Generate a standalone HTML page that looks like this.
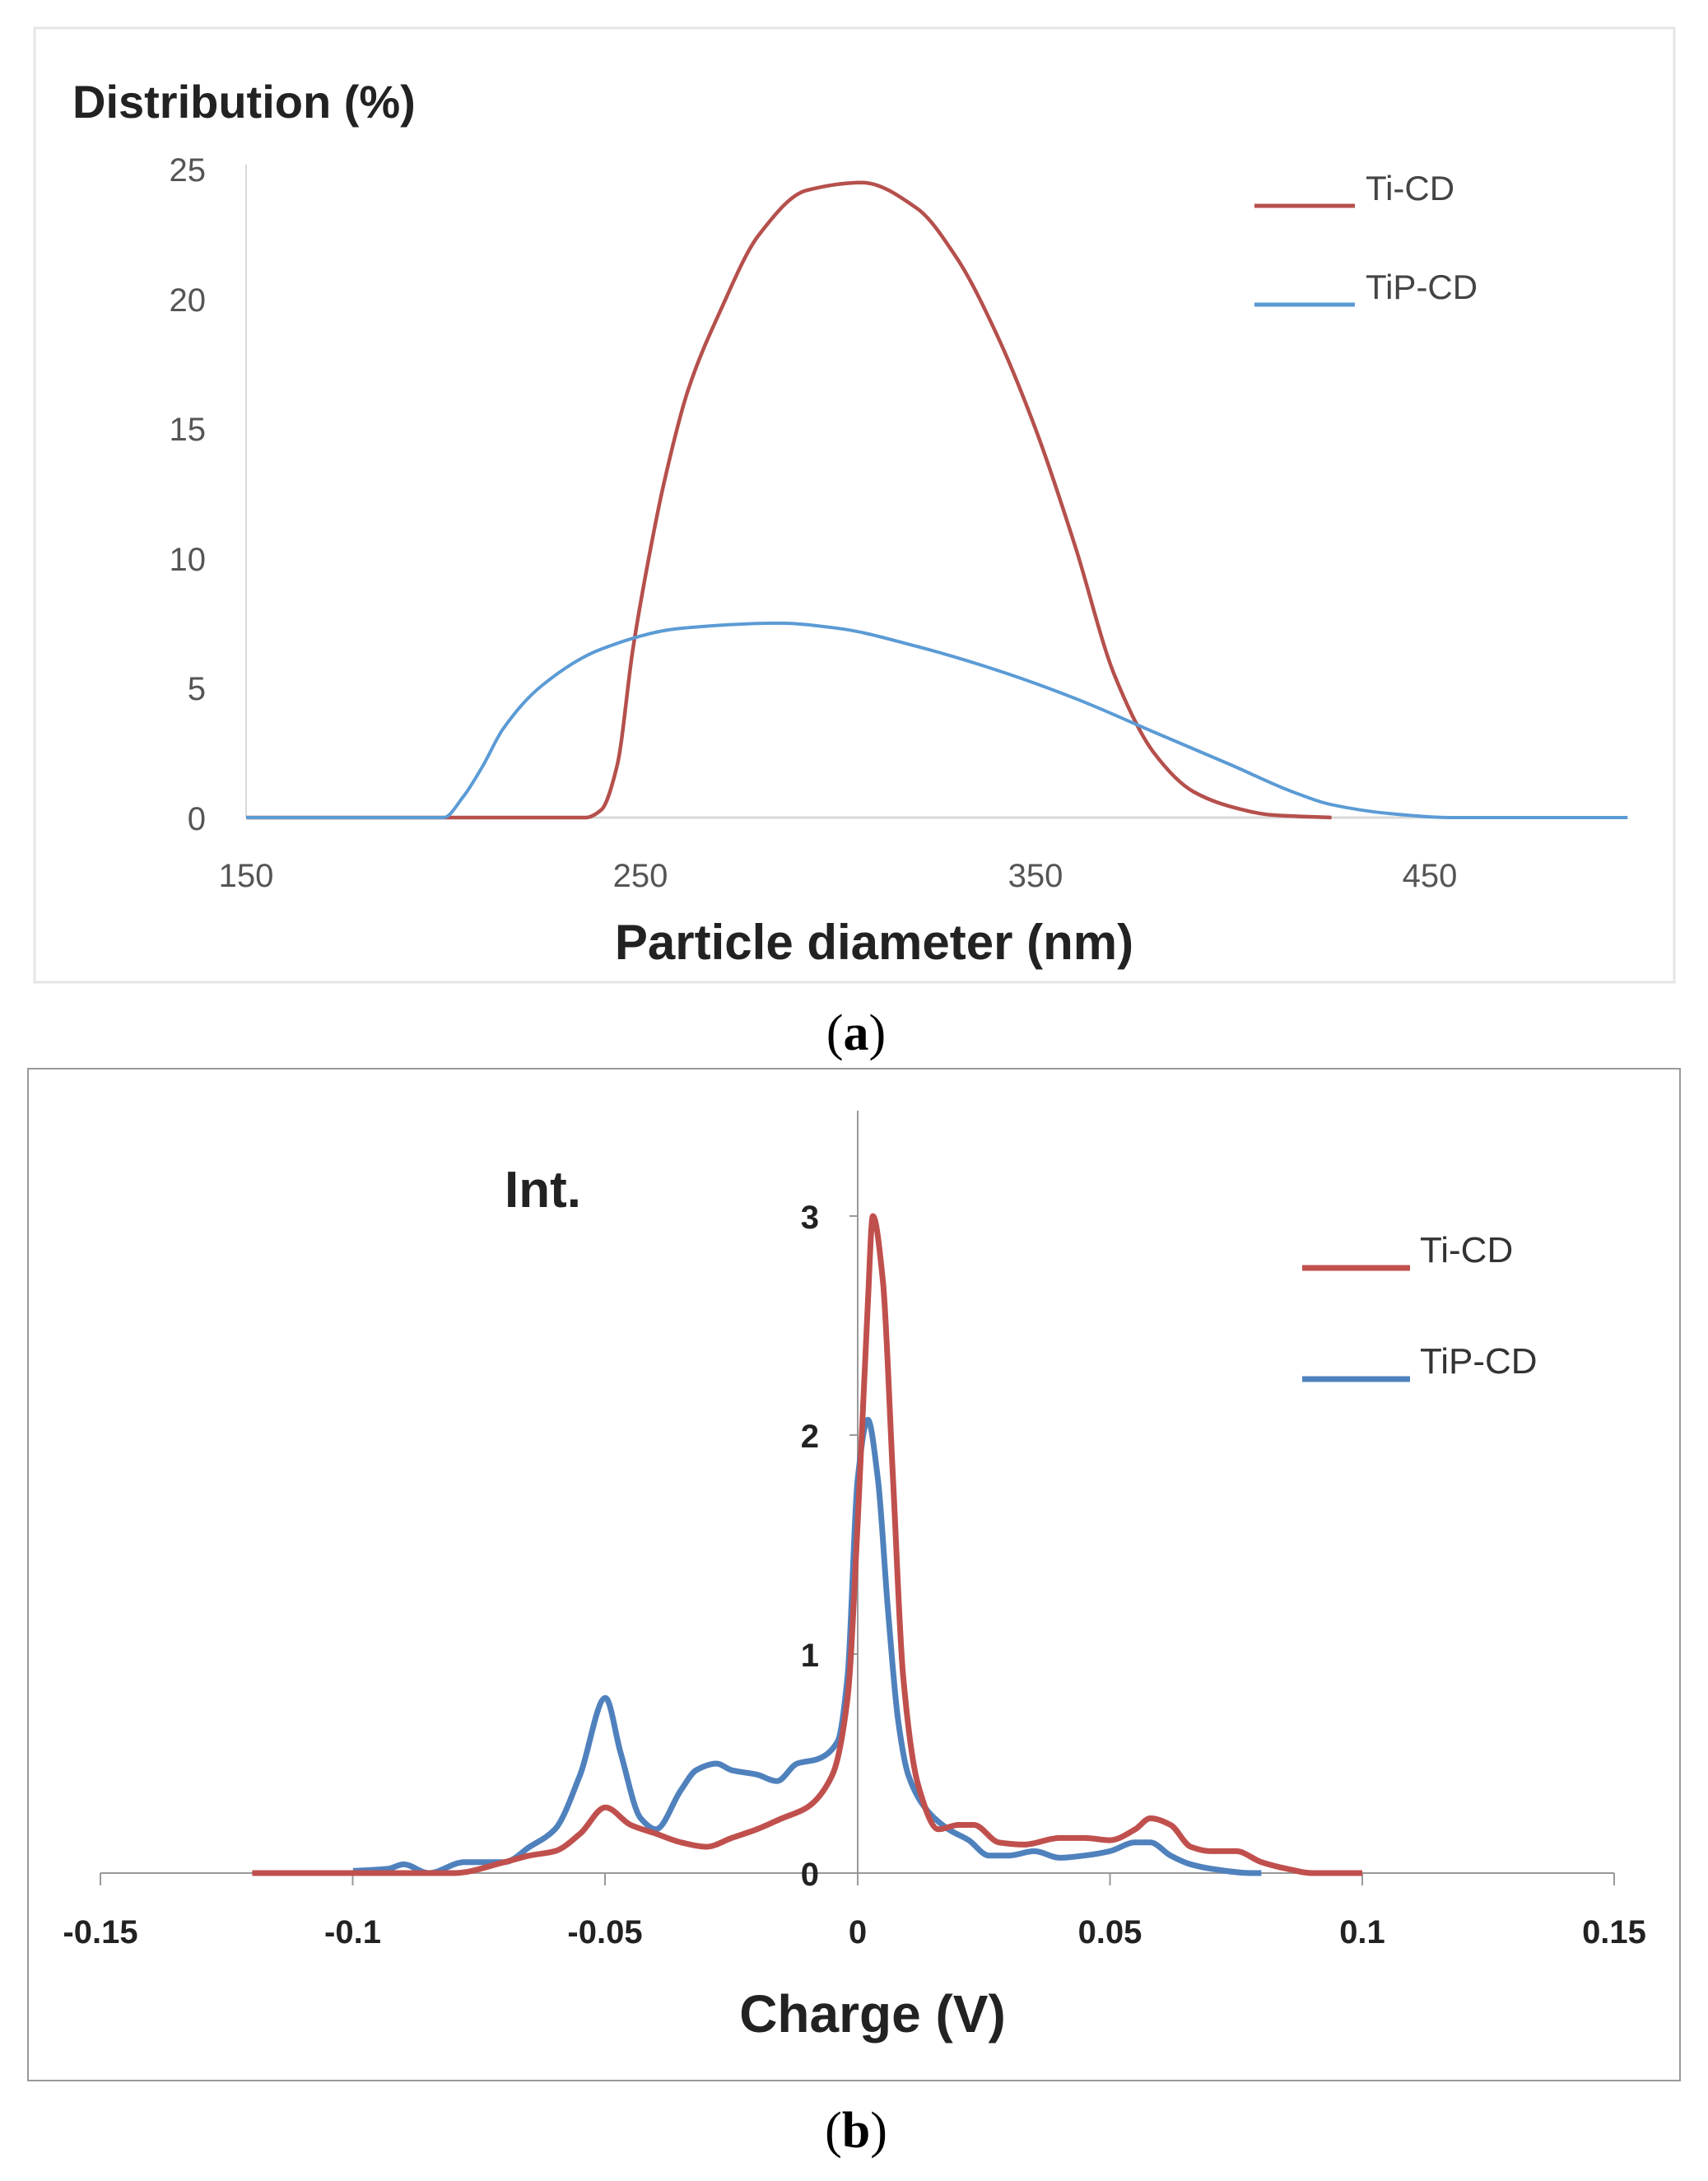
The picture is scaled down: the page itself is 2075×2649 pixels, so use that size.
<!DOCTYPE html>
<html><head><meta charset="utf-8"><style>
html,body{margin:0;padding:0;background:#fff;}
svg{display:block;}
</style></head><body>
<svg id="s" width="2075" height="2649" viewBox="0 0 2075 2649" xmlns="http://www.w3.org/2000/svg" font-family="Liberation Sans, sans-serif">
<rect x="0" y="0" width="2075" height="2649" fill="#fff"/>
<!-- Panel a -->
<rect x="42" y="34" width="1992" height="1159" fill="#fff" stroke="#e6e6e6" stroke-width="3"/>
<line x1="299" y1="200" x2="299" y2="993" stroke="#d9d9d9" stroke-width="2"/>
<line x1="299" y1="993" x2="1975" y2="993" stroke="#d9d9d9" stroke-width="3"/>
<text x="88" y="143" font-size="56" font-weight="bold" fill="#222">Distribution (%)</text>
<g font-size="40" fill="#555" text-anchor="end">
<text x="250" y="220">25</text><text x="250" y="378">20</text><text x="250" y="535">15</text>
<text x="250" y="693">10</text><text x="250" y="850">5</text><text x="250" y="1008">0</text>
</g>
<g font-size="40" fill="#555" text-anchor="middle">
<text x="299" y="1077">150</text><text x="778" y="1077">250</text><text x="1258" y="1077">350</text><text x="1737" y="1077">450</text>
</g>
<text x="1062" y="1165" font-size="60" font-weight="bold" fill="#222" text-anchor="middle">Particle diameter (nm)</text>
<path id="ra" fill="none" stroke="#b5504c" stroke-width="4.5"/>
<path id="ba" fill="none" stroke="#5b9bd5" stroke-width="4"/>
<line x1="1524" y1="250" x2="1646" y2="250" stroke="#b5504c" stroke-width="5"/>
<line x1="1524" y1="370" x2="1646" y2="370" stroke="#5b9bd5" stroke-width="5"/>
<text x="1659" y="243" font-size="42" fill="#444">Ti-CD</text>
<text x="1659" y="363" font-size="42" fill="#444">TiP-CD</text>
<text x="1040" y="1275" font-size="62" font-family="Liberation Serif, serif" text-anchor="middle" fill="#000">(<tspan font-weight="bold">a</tspan>)</text>
<!-- Panel b -->
<rect x="34" y="1298" width="2007" height="1229" fill="#fff" stroke="#999" stroke-width="2"/>
<line x1="1042" y1="1349" x2="1042" y2="2275" stroke="#999" stroke-width="2"/>
<line x1="122" y1="2275" x2="1961" y2="2275" stroke="#999" stroke-width="2"/>
<g stroke="#999" stroke-width="2">
<line x1="122" y1="2275" x2="122" y2="2290"/><line x1="428.5" y1="2275" x2="428.5" y2="2290"/>
<line x1="735" y1="2275" x2="735" y2="2290"/><line x1="1042" y1="2275" x2="1042" y2="2290"/>
<line x1="1348.5" y1="2275" x2="1348.5" y2="2290"/><line x1="1655" y1="2275" x2="1655" y2="2290"/>
<line x1="1961" y1="2275" x2="1961" y2="2290"/>
<line x1="1032" y1="2009" x2="1042" y2="2009"/><line x1="1032" y1="1743" x2="1042" y2="1743"/><line x1="1032" y1="1477" x2="1042" y2="1477"/>
</g>
<text x="613" y="1466" font-size="62" font-weight="bold" fill="#222">Int.</text>
<g font-size="40" font-weight="bold" fill="#222" text-anchor="end">
<text x="995" y="2290">0</text><text x="995" y="2024">1</text><text x="995" y="1758">2</text><text x="995" y="1492">3</text>
</g>
<g font-size="40" font-weight="bold" fill="#222" text-anchor="middle">
<text x="122" y="2360">-0.15</text><text x="428.5" y="2360">-0.1</text><text x="735" y="2360">-0.05</text>
<text x="1042" y="2360">0</text><text x="1348.5" y="2360">0.05</text><text x="1655" y="2360">0.1</text><text x="1961" y="2360">0.15</text>
</g>
<text x="1060" y="2468" font-size="64" font-weight="bold" fill="#222" text-anchor="middle">Charge (V)</text>
<path id="bb" fill="none" stroke="#4f81bd" stroke-width="7"/>
<path id="rb" fill="none" stroke="#c0504d" stroke-width="7"/>
<line x1="1582" y1="1540" x2="1713" y2="1540" stroke="#c0504d" stroke-width="7"/>
<line x1="1582" y1="1675" x2="1713" y2="1675" stroke="#4f81bd" stroke-width="7"/>
<text x="1725" y="1533" font-size="44" fill="#333">Ti-CD</text>
<text x="1725" y="1668" font-size="44" fill="#333">TiP-CD</text>
<text x="1040" y="2608" font-size="62" font-family="Liberation Serif, serif" text-anchor="middle" fill="#000">(<tspan font-weight="bold">b</tspan>)</text>
</svg>
<script>
function mono(p){const n=p.length,dx=[],s=[],m=new Array(n);
for(let i=0;i<n-1;i++){dx[i]=p[i+1][0]-p[i][0];s[i]=(p[i+1][1]-p[i][1])/dx[i];}
m[0]=s[0];m[n-1]=s[n-2];
for(let i=1;i<n-1;i++){if(s[i-1]*s[i]<=0)m[i]=0;else{const w1=2*dx[i]+dx[i-1],w2=dx[i]+2*dx[i-1];m[i]=(w1+w2)/(w1/s[i-1]+w2/s[i]);}}
let d="M"+p[0][0].toFixed(1)+","+p[0][1].toFixed(1);
for(let i=0;i<n-1;i++){const h=dx[i]/3;
d+="C"+(p[i][0]+h).toFixed(1)+","+(p[i][1]+m[i]*h).toFixed(1)+" "+(p[i+1][0]-h).toFixed(1)+","+(p[i+1][1]-m[i+1]*h).toFixed(1)+" "+p[i+1][0].toFixed(1)+","+p[i+1][1].toFixed(1);}
return d;}
const ax=x=>299+(x-150)*4.795, ay=y=>993-y*31.48;
const ra=[[150,0],[236,0],[240,0.3],[244,2],[248,6.5],[252,10],[256,13],[262,16.5],[270,19.5],[280,22.5],[292,24.2],[306,24.5],[320,23.5],[330,21.6],[340,18.7],[350,15],[360,10.5],[370,5.5],[380,2.5],[390,1.0],[400,0.4],[410,0.1],[425,0]];
const ba=[[150,0],[200,0],[205,0.8],[210,2],[215,3.4],[225,5.1],[240,6.5],[260,7.3],[285,7.5],[300,7.3],[320,6.6],[340,5.7],[360,4.6],[380,3.3],[400,2],[415,1],[425,0.5],[440,0.15],[455,0],[500,0]];
document.getElementById("ra").setAttribute("d",mono(ra.map(p=>[ax(p[0]),ay(p[1])])));
document.getElementById("ba").setAttribute("d",mono(ba.map(p=>[ax(p[0]),ay(p[1])])));
const bx=x=>1042+x*6130, by=y=>2275-y*266;
const bb=[[-0.1,0.01],[-0.093,0.02],[-0.09,0.04],[-0.085,0.0],[-0.078,0.05],[-0.07,0.05],[-0.065,0.12],[-0.06,0.2],[-0.055,0.45],[-0.05,0.8],[-0.047,0.55],[-0.043,0.25],[-0.04,0.2],[-0.035,0.38],[-0.032,0.47],[-0.028,0.5],[-0.025,0.47],[-0.02,0.45],[-0.016,0.42],[-0.012,0.5],[-0.008,0.52],[-0.004,0.6],[-0.002,0.9],[0,1.8],[0.002,2.07],[0.004,1.8],[0.006,1.2],[0.008,0.7],[0.01,0.45],[0.014,0.28],[0.018,0.2],[0.022,0.15],[0.026,0.08],[0.03,0.08],[0.035,0.1],[0.04,0.07],[0.045,0.08],[0.05,0.1],[0.055,0.14],[0.058,0.14],[0.062,0.08],[0.066,0.04],[0.07,0.02],[0.078,0],[0.08,0]];
const rb=[[-0.12,0],[-0.08,0],[-0.07,0.05],[-0.065,0.08],[-0.06,0.1],[-0.055,0.18],[-0.05,0.3],[-0.045,0.22],[-0.04,0.18],[-0.035,0.14],[-0.03,0.12],[-0.025,0.16],[-0.02,0.2],[-0.015,0.25],[-0.01,0.3],[-0.005,0.45],[-0.002,0.8],[0,1.6],[0.002,2.6],[0.003,3.0],[0.005,2.7],[0.007,1.8],[0.009,0.9],[0.012,0.4],[0.016,0.2],[0.02,0.22],[0.023,0.22],[0.028,0.14],[0.033,0.13],[0.04,0.16],[0.045,0.16],[0.05,0.15],[0.055,0.2],[0.058,0.25],[0.062,0.22],[0.066,0.12],[0.07,0.1],[0.075,0.1],[0.08,0.05],[0.085,0.02],[0.09,0],[0.1,0]];
document.getElementById("bb").setAttribute("d",mono(bb.map(p=>[bx(p[0]),by(p[1])])));
document.getElementById("rb").setAttribute("d",mono(rb.map(p=>[bx(p[0]),by(p[1])])));
</script>
</body></html>
